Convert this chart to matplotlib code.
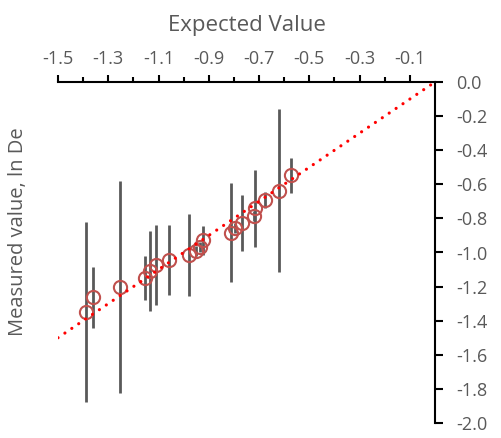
import numpy as np
import matplotlib
matplotlib.use("Agg")
import matplotlib.pyplot as plt
from matplotlib.ticker import MultipleLocator, FixedLocator

expected = [-1.390, -1.362, -1.255, -1.153, -1.135, -1.109, -1.058, -0.979, -0.951,
            -0.937, -0.924, -0.811, -0.797, -0.766, -0.720, -0.717, -0.677, -0.620, -0.574]
measured = [-1.349, -1.263, -1.204, -1.152, -1.108, -1.073, -1.044, -1.015, -0.990,
            -0.966, -0.927, -0.885, -0.858, -0.825, -0.786, -0.741, -0.692, -0.637, -0.547]
error = [0.525, 0.18, 0.622, 0.129, 0.235, 0.235, 0.208, 0.241, 0.03,
         0.03, 0.085, 0.29, 0.03, 0.164, 0.03, 0.226, 0.045, 0.478, 0.103]
line_x = [-1.5, 0.0]
line_y = [-1.5, 0.0]

x_major = [-1.5, -1.3, -1.1, -0.9, -0.7, -0.5, -0.3, -0.1]
x_minor = [-1.4, -1.2, -1.0, -0.8, -0.6, -0.4, -0.2]

plt.rcParams["font.family"] = ["Open Sans", "DejaVu Sans"]
grey = "#595959"


def main():
    fig = plt.figure(figsize=(5.01, 4.38), dpi=100)
    ax = fig.add_axes([58 / 501, 1 - 423 / 438, 377 / 501, 341 / 438])

    ax.errorbar(expected, measured, yerr=error, fmt="none", ecolor=grey,
                elinewidth=2, capsize=0, zorder=2)
    ax.plot(expected, measured, "o", mfc="none", mec="#C0504D", mew=1.5,
            ms=9.5, zorder=3)
    ax.plot(line_x, line_y, color="red", lw=2.3,
            linestyle=(0, (0.01, 2.6)), dash_capstyle="round", zorder=4)

    ax.set_xlim(-1.5, 0.0)
    ax.set_ylim(-2.0, 0.0)

    for side in ["left", "bottom"]:
        ax.spines[side].set_visible(False)
    for side in ["top", "right"]:
        ax.spines[side].set_linewidth(1.5)
        ax.spines[side].set_color("black")

    ax.xaxis.tick_top()
    ax.xaxis.set_major_locator(FixedLocator(x_major))
    ax.xaxis.set_minor_locator(FixedLocator(x_minor))
    ax.set_xticklabels([f"{v:.1f}" for v in x_major])
    ax.tick_params(axis="x", which="major", direction="out", length=5, width=1.5,
                   labelsize=13, labelcolor=grey, pad=5)
    ax.tick_params(axis="x", which="minor", direction="out", length=3.5, width=1.5)

    ax.yaxis.tick_right()
    ax.yaxis.set_major_locator(MultipleLocator(0.2))
    ax.yaxis.set_major_formatter(lambda v, p: f"{v:.1f}" if abs(v) > 1e-9 else "0.0")
    ax.tick_params(axis="y", which="major", direction="out", length=6, width=1.5,
                   labelsize=13, labelcolor=grey, pad=9)

    ax.set_xlabel("Expected Value", fontsize=16, color=grey, labelpad=14)
    ax.xaxis.set_label_position("top")

    fig.text(18 / 501, 1 - 232 / 438, "Measured value, ln De", rotation=90,
             fontsize=14.5, color=grey, ha="center", va="center")

    fig.savefig("out.png", dpi=100)


if __name__ == "__main__":
    main()
